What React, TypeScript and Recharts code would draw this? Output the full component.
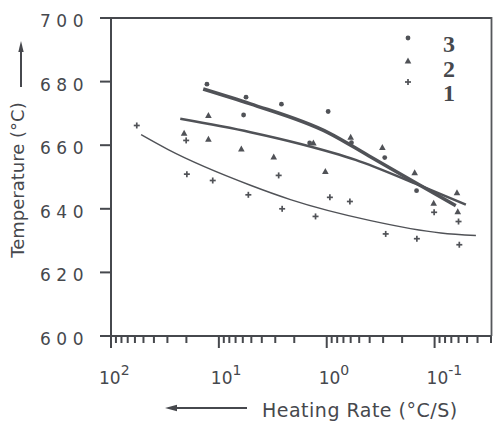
import React from 'react';
import { ComposedChart, XAxis, YAxis, Scatter, Line, ReferenceLine, Legend } from 'recharts';

// Measured points (heating rate °C/s, temperature °C)
const series3 = [
  { x: 12.9, y: 679.2 }, { x: 5.6, y: 675.1 }, { x: 5.9, y: 669.5 }, { x: 2.63, y: 672.9 },
  { x: 1.44, y: 660.7 }, { x: 0.97, y: 670.6 }, { x: 0.59, y: 660.8 }, { x: 0.29, y: 656.1 },
  { x: 0.147, y: 645.7 },
];
const series2 = [
  { x: 21.0, y: 663.8 }, { x: 12.5, y: 669.4 }, { x: 12.5, y: 661.9 }, { x: 6.19, y: 658.8 },
  { x: 3.1, y: 656.3 }, { x: 1.33, y: 660.7 }, { x: 1.03, y: 651.8 }, { x: 0.6, y: 662.5 },
  { x: 0.305, y: 659.3 }, { x: 0.153, y: 651.4 }, { x: 0.102, y: 641.8 }, { x: 0.062, y: 645.1 },
  { x: 0.061, y: 639.1 },
];
const series1 = [
  { x: 57.7, y: 666.2 }, { x: 20.1, y: 661.5 }, { x: 19.8, y: 650.9 }, { x: 11.4, y: 648.9 },
  { x: 5.33, y: 644.4 }, { x: 2.79, y: 650.5 }, { x: 2.59, y: 640.0 }, { x: 1.27, y: 637.6 },
  { x: 0.935, y: 643.6 }, { x: 0.61, y: 642.3 }, { x: 0.284, y: 632.1 }, { x: 0.146, y: 630.6 },
  { x: 0.101, y: 638.9 }, { x: 0.06, y: 636.0 }, { x: 0.059, y: 628.7 },
];

// Fitted curves
const fit3 = [
  { x: 13.97, y: 677.7 }, { x: 5.1, y: 673.0 }, { x: 0.962, y: 663.9 }, { x: 0.409, y: 656.7 },
  { x: 0.15, y: 648.2 }, { x: 0.0636, y: 641.0 },
];
const fit2 = [
  { x: 22.8, y: 668.3 }, { x: 5.1, y: 664.1 }, { x: 1.75, y: 660.4 }, { x: 0.54, y: 655.4 },
  { x: 0.15, y: 647.9 }, { x: 0.0513, y: 641.3 },
];
const fit1 = [
  { x: 52.6, y: 663.3 }, { x: 29.5, y: 658.6 }, { x: 5.1, y: 647.4 }, { x: 2.17, y: 642.9 },
  { x: 0.392, y: 636.3 }, { x: 0.0875, y: 632.4 }, { x: 0.0414, y: 631.6 },
];

const xTicks = [
  100, 90, 80, 70, 60, 50, 40, 30, 20,
  10, 9, 8, 7, 6, 5, 4, 3, 2,
  1, 0.9, 0.8, 0.7, 0.6, 0.5, 0.4, 0.3, 0.2,
  0.1, 0.09, 0.08, 0.07, 0.06, 0.05, 0.04, 0.03,
];
const majorTicks = [100, 10, 1, 0.1];
const majorExponents = ['2', '1', '0', '-1'];
const yTicks = [600, 620, 640, 660, 680, 700];
const legendLabels = ['3', '2', '1'];

const INK = '#46484d';
const MARK = '#505257';
const FONT = '"DejaVu Sans", sans-serif';

const XTick = (props: any) => {
  const { x, y, payload } = props;
  const v = payload.value;
  const idx = majorTicks.indexOf(v);
  const major = idx >= 0;
  return (
    <g>
      <line x1={x} x2={x} y1={y} y2={y + (major ? 12 : 7)} stroke={INK} strokeWidth={2} />
      {major && (
        <text x={x + (v === 100 ? -12 : -8)} y={y + 48} fontSize={17} fill={INK} fontFamily={FONT}>
          <tspan>10</tspan>
          <tspan dy={-9} fontSize={14}>{majorExponents[idx]}</tspan>
        </text>
      )}
    </g>
  );
};

const YTick = (props: any) => {
  const { x, y, payload } = props;
  return (
    <g>
      <line x1={x - 11} x2={x} y1={y} y2={y} stroke={INK} strokeWidth={2} />
      <text x={40} y={y + 9} fontSize={17} letterSpacing={5.5} fill={INK} fontFamily={FONT}>
        {String(payload.value)}
      </text>
    </g>
  );
};

const circleShape = (p: any) => <circle cx={p.cx} cy={p.cy} r={2.4} fill={MARK} />;
const triangleShape = (p: any) => (
  <polygon
    points={`${p.cx},${p.cy - 3.4} ${p.cx - 3.3},${p.cy + 2.6} ${p.cx + 3.3},${p.cy + 2.6}`}
    fill={MARK}
  />
);
const plusShape = (p: any) => (
  <g stroke={MARK} strokeWidth={1.7}>
    <line x1={p.cx - 3} x2={p.cx + 3} y1={p.cy} y2={p.cy} />
    <line x1={p.cx} x2={p.cx} y1={p.cy - 3} y2={p.cy + 3} />
  </g>
);

const LegendContent = () => (
  <svg width={80} height={85} style={{ display: 'block' }}>
    <circle cx={13} cy={13} r={2.4} fill={MARK} />
    <polygon points="13,32.6 9.7,38.6 16.3,38.6" fill={MARK} />
    <g stroke={MARK} strokeWidth={1.7}>
      <line x1={10} x2={16} y1={57} y2={57} />
      <line x1={13} x2={13} y1={54} y2={60} />
    </g>
    {legendLabels.map((l, i) => (
      <text
        key={l}
        x={54}
        y={27 + i * 24.5}
        textAnchor="middle"
        fontSize={24}
        fontWeight="bold"
        fontFamily='"Liberation Serif", serif'
        fill={INK}
      >
        {l}
      </text>
    ))}
  </svg>
);

export default function App() {
  return (
    <div style={{ position: 'absolute', left: 0, top: 0, width: 495, height: 423, background: '#fff' }}>
      <ComposedChart width={495} height={423} margin={{ top: 18, right: 4, bottom: 0, left: 0 }}>
        <XAxis
          dataKey="x"
          type="number"
          scale="log"
          domain={[0.03, 100]}
          allowDataOverflow
          reversed
          ticks={xTicks}
          interval={0}
          height={87}
          tickSize={0}
          tickMargin={0}
          tickLine={false}
          axisLine={{ stroke: INK, strokeWidth: 2 }}
          tick={<XTick />}
        />
        <YAxis
          dataKey="y"
          type="number"
          domain={[600, 700]}
          ticks={yTicks}
          interval={0}
          width={111}
          tickSize={0}
          tickMargin={0}
          tickLine={false}
          axisLine={{ stroke: INK, strokeWidth: 2 }}
          tick={<YTick />}
        />
        <ReferenceLine y={700} stroke={INK} strokeWidth={2} ifOverflow="visible" />
        <Line data={fit1} dataKey="y" type="monotone" stroke={MARK} strokeWidth={1.4} dot={false} isAnimationActive={false} />
        <Line data={fit2} dataKey="y" type="monotone" stroke={MARK} strokeWidth={2.5} dot={false} isAnimationActive={false} />
        <Line data={fit3} dataKey="y" type="monotone" stroke={MARK} strokeWidth={3.6} dot={false} isAnimationActive={false} />
        <Scatter data={series1} shape={plusShape} isAnimationActive={false} />
        <Scatter data={series2} shape={triangleShape} isAnimationActive={false} />
        <Scatter data={series3} shape={circleShape} isAnimationActive={false} />
        <Legend
          layout="vertical"
          align="center"
          verticalAlign="middle"
          content={<LegendContent />}
          wrapperStyle={{ position: 'absolute', left: 395, top: 25, width: 80, height: 85 }}
        />
      </ComposedChart>
      <svg width={495} height={423} style={{ position: 'absolute', left: 0, top: 0, pointerEvents: 'none' }}>
        <line x1={491.5} x2={491.5} y1={17} y2={336} stroke="#55575b" strokeWidth={1.8} />
        <line x1={21} x2={21} y1={87} y2={50} stroke={INK} strokeWidth={2} />
        <polygon points="21,41 18.3,52 23.7,52" fill={INK} />
        <text
          x={24}
          y={180}
          transform="rotate(-90 24 180)"
          textAnchor="middle"
          fontSize={18}
          fill={INK}
          fontFamily={FONT}
        >
          Temperature (°C)
        </text>
        <line x1={247} x2={175} y1={408} y2={408} stroke={INK} strokeWidth={2} />
        <polygon points="165,408 177,404.8 177,411.2" fill={INK} />
        <text x={262} y={417} fontSize={19} letterSpacing={0.5} fill={INK} fontFamily={FONT}>
          Heating Rate (°C/S)
        </text>
      </svg>
    </div>
  );
}
